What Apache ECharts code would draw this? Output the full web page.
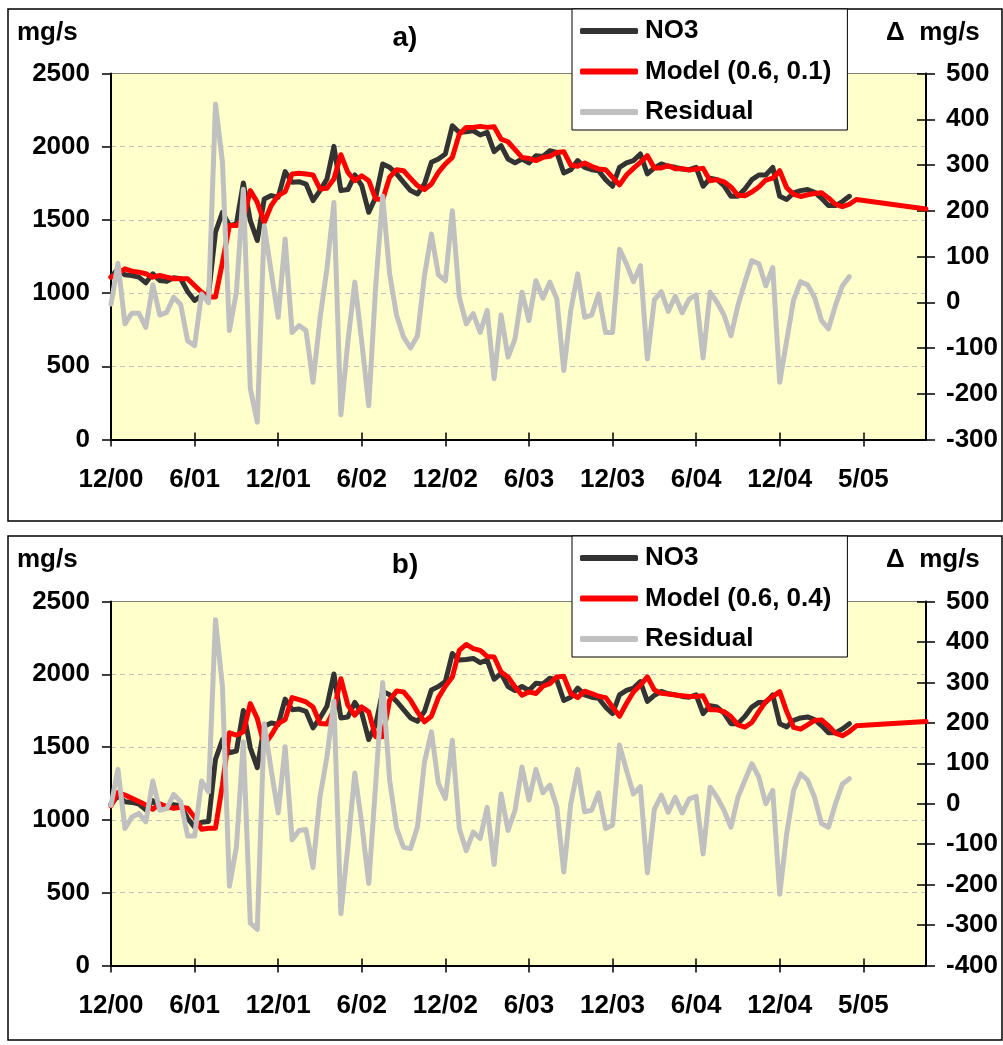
<!DOCTYPE html>
<html>
<head>
<meta charset="utf-8">
<script src="https://cdn.jsdelivr.net/npm/echarts@6/dist/echarts.min.js"></script>
<style>
  html, body { margin: 0; padding: 0; background: #ffffff; }
  #chart { width: 1003px; height: 1045px; }
</style>
</head>
<body>
<div id="chart"></div>
<script>
// x axis: biweekly steps, a label every 12 steps
var tickLabels = ['12/00', '6/01', '12/01', '6/02', '12/02', '6/03', '12/03', '6/04', '12/04', '5/05']
var stepCount = 118
var categories = []
for (var i = 0; i < stepCount; i++) categories.push(i)

// observed NO3 load, mg/s (same in both panels)
var no3 = [
  1109, 1165, 1125, 1120, 1109, 1070, 1132, 1086, 1080, 1105, 1098, 1011, 950, 984, 989, 1416, 1552, 1461, 1473, 1752,
  1495, 1359, 1643, 1666, 1655, 1830, 1757, 1761, 1745, 1632, 1700, 1780, 2002, 1700, 1707, 1807, 1734, 1552, 1655, 1882,
  1859, 1814, 1757, 1700, 1677, 1745, 1893, 1916, 1950, 2143, 2098, 2102, 2109, 2080, 2098, 1966, 2007, 1916, 1889, 1916,
  1889, 1939, 1934, 1973, 1961, 1820, 1843, 1905, 1859, 1843, 1836, 1775, 1730, 1859, 1889, 1905, 1950, 1814, 1855, 1882,
  1866, 1859, 1848, 1843, 1859, 1730, 1784, 1775, 1734, 1661, 1661, 1711, 1775, 1807, 1807, 1859, 1661, 1639, 1684, 1700,
  1707, 1689, 1648, 1598, 1598, 1625, 1661
]

// panel a) model (0.6, 0.1), the forecast tail runs to the last step
var modelA = [
  1109, 1132, 1166, 1150, 1143, 1132, 1109, 1120, 1109, 1098, 1098, 1098, 1052, 1007, 973, 973, 1211, 1461, 1461, 1507,
  1700, 1620, 1484, 1598, 1666, 1693, 1814, 1818, 1814, 1807, 1711, 1716, 1780, 1945, 1825, 1768, 1802, 1768, 1643, 1639,
  1791, 1843, 1836, 1784, 1734, 1707, 1745, 1825, 1882, 1927, 2086, 2132, 2132, 2139, 2132, 2136, 2052, 2034, 1980, 1927,
  1920, 1905, 1927, 1934, 1961, 1966, 1875, 1866, 1889, 1866, 1848, 1843, 1791, 1739, 1807, 1852, 1893, 1939, 1855, 1855,
  1870, 1850, 1850, 1840, 1848, 1852, 1768, 1775, 1760, 1725, 1668, 1665, 1690, 1725, 1772, 1785, 1836, 1720, 1675, 1660,
  1672, 1680, 1685, 1650, 1607, 1590, 1607, 1639, null, null, null, null, null, null, null, null, null, 1575
]
var residualA = [
  -4, 85, -47, -24, -24, -55, 38, -28, -22, 11, -5, -84, -95, 18, -1, 433, 306, -62, 22, 247,
  -189, -262, 167, 66, -33, 138, -66, -51, -62, -175, -36, 73, 218, -246, -87, 44, -87, -226, 36, 232,
  62, -29, -76, -100, -73, 58, 149, 60, 47, 200, 11, -47, -25, -66, -18, -167, -28, -120, -80, 22,
  -40, 47, 9, 44, 7, -149, -18, 62, -33, -28, 18, -66, -66, 116, 84, 45, 80, -124, 5, 23,
  -20, 13, -23, 7, 16, -122, 22, 0, -28, -73, -7, 44, 91, 84, 36, 76, -175, -84, 6, 45,
  38, 11, -40, -58, -7, 36, 56
]

// panel b) model (0.6, 0.4)
var modelB = [
  1096, 1187, 1171, 1148, 1126, 1103, 1073, 1110, 1091, 1080, 1087, 1080, 1018, 936, 943, 943, 1240, 1598, 1582, 1605,
  1799, 1696, 1514, 1582, 1662, 1689, 1840, 1826, 1810, 1776, 1662, 1658, 1753, 1970, 1788, 1719, 1776, 1742, 1571, 1571,
  1822, 1886, 1879, 1822, 1742, 1674, 1712, 1840, 1918, 1982, 2164, 2205, 2176, 2164, 2123, 2119, 2016, 1982, 1913, 1856,
  1879, 1868, 1918, 1936, 1982, 1986, 1868, 1840, 1884, 1868, 1849, 1840, 1776, 1712, 1799, 1879, 1925, 1982, 1893, 1870,
  1865, 1858, 1852, 1847, 1847, 1852, 1756, 1756, 1744, 1710, 1653, 1637, 1669, 1744, 1813, 1847, 1881, 1744, 1635, 1623,
  1653, 1683, 1687, 1646, 1596, 1578, 1607, 1646, null, null, null, null, null, null, null, null, null, 1676
]
var residualB = [
  -4, 85, -61, -33, -24, -45, 56, -16, -12, 23, 5, -80, -80, 56, 29, 455, 289, -204, -107, 153,
  -295, -311, 198, 83, -23, 141, -89, -66, -64, -158, 17, 116, 254, -272, -107, 76, -49, -197, 50, 300,
  58, -61, -108, -111, -57, 103, 178, 50, 13, 157, -61, -116, -70, -86, -9, -150, 24, -66, -16, 91,
  9, 85, 27, 46, -8, -169, 0, 85, -20, -16, 27, -61, -53, 145, 83, 24, 42, -171, -14, 21,
  -21, 16, -23, 12, 18, -124, 41, 16, -16, -58, 16, 58, 99, 66, 0, 33, -224, -74, 33, 74,
  58, 16, -49, -58, 0, 49, 62
]

var font = "'Liberation Sans', Arial, sans-serif"
var colorNo3 = '#333333'
var colorModel = '#ff0000'
var colorResidual = '#c0c0c0'

// x axis with ticks below the line + a copy for the ticks above it
function makeXAxis(gridIndex, inside) {
  return {
    type: 'category',
    gridIndex: gridIndex,
    position: 'bottom',
    data: categories,
    boundaryGap: false,
    axisLine: { show: !inside, onZero: false, lineStyle: { color: '#000', width: 2 } },
    axisTick: { show: true, inside: inside, length: 7, interval: 11, lineStyle: { color: '#000', width: 1.5 } },
    axisLabel: {
      show: !inside,
      interval: 11,
      margin: 27,
      fontSize: 26,
      fontWeight: 'bold',
      fontFamily: font,
      color: '#000',
      formatter: function (value, index) {
        return tickLabels[index / 12]
      },
    },
    splitLine: { show: false },
  }
}

function makeLeftAxis(gridIndex) {
  return {
    type: 'value',
    gridIndex: gridIndex,
    position: 'left',
    min: 0,
    max: 2500,
    interval: 500,
    axisLine: { show: true, lineStyle: { color: '#000', width: 2 } },
    axisTick: { show: true, length: 9, lineStyle: { color: '#000', width: 1.5 } },
    axisLabel: {
      margin: 21,
      fontSize: 26,
      fontWeight: 'bold',
      fontFamily: font,
      color: '#000',
      formatter: function (v) {
        return String(v)
      },
    },
    splitLine: {
      show: true,
      showMinLine: false,
      showMaxLine: false,
      lineStyle: { color: '#c0c0c0', width: 1, type: [5, 4] },
    },
  }
}

function makeRightAxis(gridIndex, min, inside) {
  return {
    type: 'value',
    gridIndex: gridIndex,
    position: 'right',
    min: min,
    max: 500,
    interval: 100,
    axisLine: { show: !inside, lineStyle: { color: '#000', width: 2 } },
    axisTick: { show: true, inside: inside, length: 9, lineStyle: { color: '#000', width: 1.5 } },
    axisLabel: {
      show: !inside,
      margin: 20,
      fontSize: 26,
      fontWeight: 'bold',
      fontFamily: font,
      color: '#000',
      formatter: function (v) {
        return String(v)
      },
    },
    splitLine: { show: false },
  }
}

function makeLine(name, data, xIndex, yIndex, color) {
  return {
    name: name,
    type: 'line',
    xAxisIndex: xIndex,
    yAxisIndex: yIndex,
    data: data,
    symbol: 'none',
    connectNulls: true,
    color: color,
    lineStyle: { color: color, width: 5, cap: 'round', join: 'round' },
  }
}

function makeLegend(top, modelName) {
  return {
    data: ['NO3', modelName, 'Residual'],
    orient: 'vertical',
    left: 572,
    top: top,
    padding: [9, 16, 5, 8],
    icon: 'roundRect',
    itemWidth: 58,
    itemHeight: 6,
    itemGap: 14.5,
    selectedMode: false,
    backgroundColor: '#ffffff',
    borderColor: '#000000',
    borderWidth: 1,
    textStyle: { fontSize: 26, fontWeight: 'bold', fontFamily: font, color: '#000', padding: [0, 0, 0, 2] },
  }
}

function makeText(x, y, text, align, size) {
  return {
    type: 'text',
    x: x,
    y: y,
    z: 10,
    style: {
      text: text,
      textAlign: align,
      textVerticalAlign: 'middle',
      font: 'bold ' + size + 'px ' + font,
      fill: '#000',
    },
  }
}

function makeBox(y, h) {
  return {
    type: 'rect',
    z: -1,
    shape: { x: 8, y: y, width: 994, height: h },
    style: { fill: 'none', stroke: '#000', lineWidth: 1.5 },
  }
}

var myChart = echarts.init(document.getElementById('chart'))
myChart.setOption({
  animation: false,
  backgroundColor: '#ffffff',
  grid: [
    { left: 111, top: 73.5, width: 815, height: 366, show: true, backgroundColor: '#ffffcc', borderColor: '#808080', borderWidth: 1 },
    { left: 111, top: 601.5, width: 815, height: 364, show: true, backgroundColor: '#ffffcc', borderColor: '#808080', borderWidth: 1 },
  ],
  xAxis: [makeXAxis(0, false), makeXAxis(0, true), makeXAxis(1, false), makeXAxis(1, true)],
  yAxis: [
    makeLeftAxis(0),
    makeRightAxis(0, -300, false),
    makeRightAxis(0, -300, true),
    makeLeftAxis(1),
    makeRightAxis(1, -400, false),
    makeRightAxis(1, -400, true),
  ],
  legend: [makeLegend(9, 'Model (0.6, 0.1)'), makeLegend(536, 'Model (0.6, 0.4)')],
  graphic: [
    makeBox(9, 512),
    makeBox(536, 504),
    makeText(17, 33, 'mg/s', 'left', 26),
    makeText(405, 38, 'a)', 'center', 28),
    makeText(886, 33, 'Δ  mg/s', 'left', 26),
    makeText(17, 560, 'mg/s', 'left', 26),
    makeText(405, 565, 'b)', 'center', 28),
    makeText(886, 560, 'Δ  mg/s', 'left', 26),
  ],
  series: [
    makeLine('NO3', no3, 0, 0, colorNo3),
    makeLine('Model (0.6, 0.1)', modelA, 0, 0, colorModel),
    makeLine('Residual', residualA, 0, 1, colorResidual),
    makeLine('NO3', no3, 2, 3, colorNo3),
    makeLine('Model (0.6, 0.4)', modelB, 2, 3, colorModel),
    makeLine('Residual', residualB, 2, 4, colorResidual),
  ],
})
</script>
</body>
</html>
